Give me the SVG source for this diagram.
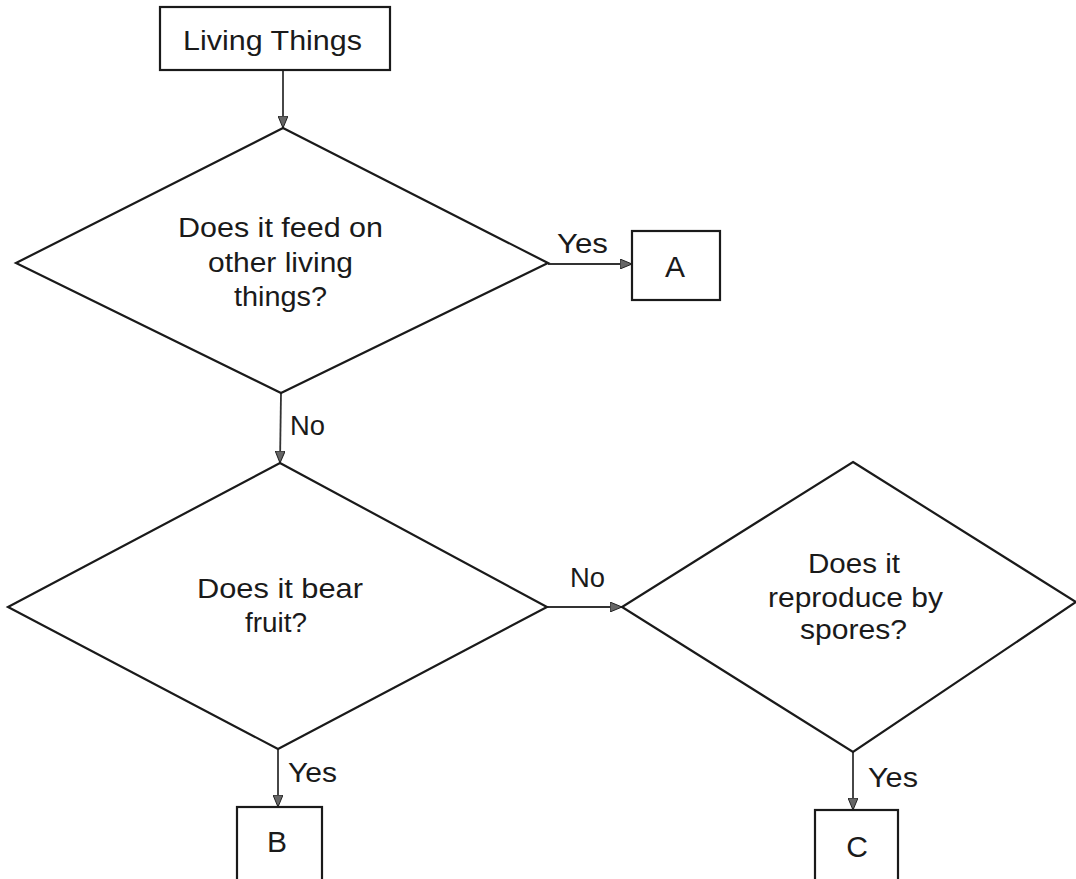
<svg xmlns="http://www.w3.org/2000/svg" width="1076" height="879" viewBox="0 0 1076 879">
<style>
.shape{fill:#fff;stroke:#1a1a1a;stroke-width:2.2}
.conn{fill:none;stroke:#333;stroke-width:1.8}
text{font-family:"Liberation Sans",Arial,sans-serif;font-size:27.5px;fill:#1a1a1a}
.c{text-anchor:middle;font-size:30px}
</style>
<defs>
<marker id="arr" viewBox="0 0 12 10" refX="12" refY="5" markerWidth="12" markerHeight="10" markerUnits="userSpaceOnUse" orient="auto">
<path d="M0,0 L12,5 L0,10 Z" fill="#666" stroke="#222" stroke-width="1"/>
</marker>
</defs>
<rect width="1076" height="879" fill="#fff"/>
<g id="connectors">
<line class="conn" x1="283" y1="70" x2="283" y2="128" marker-end="url(#arr)"/>
<line class="conn" x1="548" y1="264" x2="632" y2="264" marker-end="url(#arr)"/>
<line class="conn" x1="281" y1="393" x2="280" y2="463" marker-end="url(#arr)"/>
<line class="conn" x1="547" y1="607" x2="622" y2="607" marker-end="url(#arr)"/>
<line class="conn" x1="278" y1="749" x2="278" y2="807" marker-end="url(#arr)"/>
<line class="conn" x1="853" y1="752" x2="853" y2="810" marker-end="url(#arr)"/>
<text x="557" y="253" textLength="51" lengthAdjust="spacingAndGlyphs">Yes</text>
<text x="290" y="435" textLength="35" lengthAdjust="spacingAndGlyphs">No</text>
<text x="570" y="587" textLength="35" lengthAdjust="spacingAndGlyphs">No</text>
<text x="288" y="782" textLength="49" lengthAdjust="spacingAndGlyphs">Yes</text>
<text x="868" y="787" textLength="50" lengthAdjust="spacingAndGlyphs">Yes</text>
</g>
<g id="start">
<rect class="shape" x="160" y="7" width="230" height="63"/>
<text x="183" y="50" textLength="179" lengthAdjust="spacingAndGlyphs">Living Things</text>
</g>
<g id="q1">
<polygon class="shape" points="283,128 548,263 281,393 16,263"/>
<text x="178" y="237" textLength="205" lengthAdjust="spacingAndGlyphs">Does it feed on</text>
<text x="208" y="272" textLength="145" lengthAdjust="spacingAndGlyphs">other living</text>
<text x="234" y="306" textLength="93" lengthAdjust="spacingAndGlyphs">things?</text>
</g>
<g id="a">
<rect class="shape" x="632" y="231" width="88" height="69"/>
<text class="c" x="675" y="277">A</text>
</g>
<g id="q2">
<polygon class="shape" points="280,463 547,607 278,749 8,607"/>
<text x="197" y="598" textLength="166" lengthAdjust="spacingAndGlyphs">Does it bear</text>
<text x="245" y="632" textLength="62" lengthAdjust="spacingAndGlyphs">fruit?</text>
</g>
<g id="q3">
<polygon class="shape" points="853,462 1076,602 853,752 622,607"/>
<text x="808" y="573" textLength="92" lengthAdjust="spacingAndGlyphs">Does it</text>
<text x="768" y="607" textLength="175" lengthAdjust="spacingAndGlyphs">reproduce by</text>
<text x="800" y="639" textLength="107" lengthAdjust="spacingAndGlyphs">spores?</text>
</g>
<g id="b">
<rect class="shape" x="237" y="807" width="85" height="90"/>
<text class="c" x="277" y="852">B</text>
</g>
<g id="c">
<rect class="shape" x="815" y="810" width="83" height="90"/>
<text class="c" x="857" y="857">C</text>
</g>
</svg>
